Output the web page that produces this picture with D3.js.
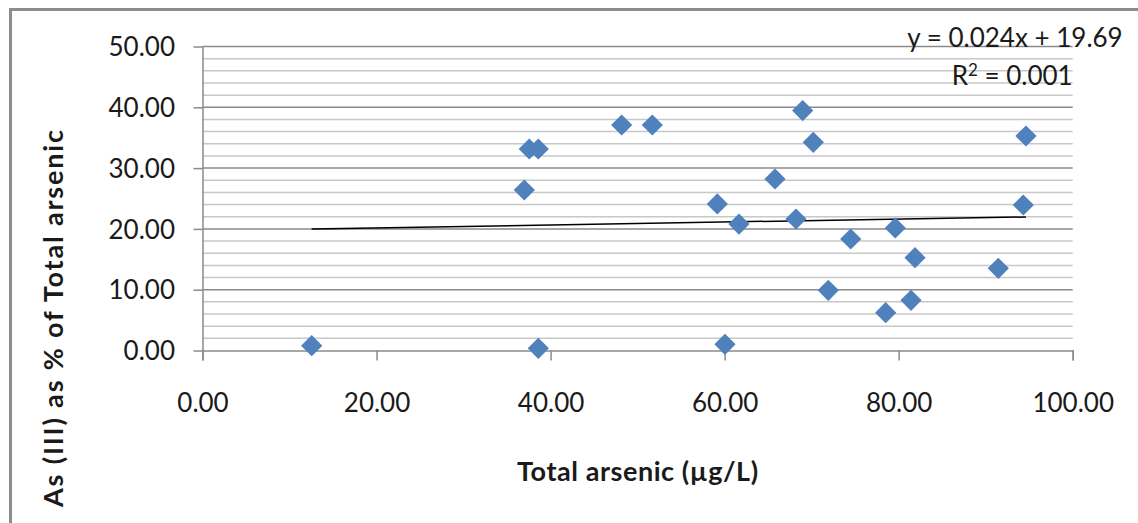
<!DOCTYPE html>
<html>
<head>
<meta charset="utf-8">
<script src="https://cdn.jsdelivr.net/npm/d3@7"></script>
<style>
  body { margin: 0; background: #fff; }
  text { font-family: Lato, "Open Sans", sans-serif; fill: #1a1a1a; }
</style>
</head>
<body>
<div id="chart"></div>
<script>
// medidas del lienzo
const width = 1138
const height = 523
const margin = { top: 46.5, bottom: 172.5, left: 202.5, right: 65.3 }

// datos
const totalArsenic = [12.55, 36.98, 37.55, 38.59, 38.59, 48.17, 51.69, 59.16, 60.04, 61.65, 65.79, 68.2,
                      68.97, 70.19, 71.91, 74.49, 78.51, 79.61, 81.42, 81.88, 91.45, 94.32, 94.63]
const as3Percent = [0.79, 26.4, 33.14, 33.14, 0.36, 37.09, 37.09, 24.1, 1.02, 20.8, 28.21, 21.63,
                    39.47, 34.24, 9.9, 18.34, 6.22, 20.15, 8.26, 15.26, 13.52, 23.93, 35.28]
const xTicks = [0, 20, 40, 60, 80, 100]
const yTicks = [0, 10, 20, 30, 40, 50]
const yMinorTicks = d3.range(0, 50.01, 2)
const trend = { slope: 0.024, intercept: 19.69 }
const equationText = "y = 0.024x + 19.69"
const r2Value = "0.001"

const svg = d3.select("#chart")
    .append("svg")
    .attr("width", width)
    .attr("height", height)

// marco exterior
svg.append("rect")
    .attr("x", 10.5).attr("y", 9.5)
    .attr("width", width + 20).attr("height", height + 20)
    .attr("fill", "none")
    .attr("stroke", "#8c8c8c")
    .attr("stroke-width", 3)

const x = d3.scaleLinear().domain([0, 100]).range([margin.left, width - margin.right])
const y = d3.scaleLinear().domain([0, 50]).range([height - margin.bottom, margin.top])

// lineas de rejilla (menores cada 2, mayores cada 10)
svg.append("g").selectAll("line")
    .data(yMinorTicks.filter(d => d % 10 !== 0))
    .join("line")
    .attr("x1", x(0)).attr("x2", x(100))
    .attr("y1", d => y(d)).attr("y2", d => y(d))
    .attr("stroke", "#c8c8c8").attr("stroke-width", 1.5)

svg.append("g").selectAll("line")
    .data(yTicks.filter(d => d > 0))
    .join("line")
    .attr("x1", x(0)).attr("x2", x(100))
    .attr("y1", d => y(d)).attr("y2", d => y(d))
    .attr("stroke", "#8a8a8a").attr("stroke-width", 1.5)

// ejes
const xAxis = d3.axisBottom(x).tickValues(xTicks).tickSize(10).tickSizeOuter(10).tickFormat(d3.format(".2f"))
const yAxis = d3.axisLeft(y).tickValues(yTicks).tickSize(9).tickSizeOuter(0).tickFormat(d3.format(".2f"))

const xAxisGroup = svg.append("g")
    .attr("transform", `translate(0,${y(0)})`)
    .call(xAxis)
const yAxisGroup = svg.append("g")
    .attr("transform", `translate(${x(0)},0)`)
    .call(yAxis)

for (const g of [xAxisGroup, yAxisGroup]) {
    g.selectAll(".domain, line").attr("stroke", "#8a8a8a").attr("stroke-width", 1.5)
    g.selectAll("text").style("font-size", "26px").attr("fill", "#1a1a1a")
}
xAxisGroup.selectAll("text").attr("y", 0).attr("dy", "61px")
yAxisGroup.selectAll("text").attr("x", -27.5).attr("dy", "0.35em")

// linea de tendencia
const xExtent = d3.extent(totalArsenic)
svg.append("line")
    .attr("x1", x(xExtent[0])).attr("y1", y(trend.slope * xExtent[0] + trend.intercept))
    .attr("x2", x(xExtent[1])).attr("y2", y(trend.slope * xExtent[1] + trend.intercept))
    .attr("stroke", "#000").attr("stroke-width", 1.5)

// puntos (rombos)
const points = totalArsenic.map((d, i) => ({ x: d, y: as3Percent[i] }))
svg.append("g").selectAll("path")
    .data(points)
    .join("path")
    .attr("d", d3.symbol(d3.symbolSquare, 225))
    .attr("transform", d => `translate(${x(d.x)},${y(d.y)}) rotate(45)`)
    .attr("fill", "#4f81bd")

// ecuacion y R2
svg.append("text")
    .attr("x", 1122.7).attr("y", 47)
    .attr("text-anchor", "end")
    .style("font-size", "26px")
    .text(equationText)
const r2 = svg.append("text")
    .attr("x", x(100)).attr("y", 85)
    .attr("text-anchor", "end")
    .style("font-size", "26px")
r2.append("tspan").text("R")
r2.append("tspan").attr("dy", -9).style("font-size", "17px").text("2")
r2.append("tspan").attr("dy", 9).text(" = " + r2Value)

// titulos de ejes
svg.append("text")
    .attr("x", (x(0) + x(100)) / 2).attr("y", 481)
    .attr("text-anchor", "middle")
    .attr("textLength", 241).attr("lengthAdjust", "spacing")
    .style("font-size", "27px").style("font-weight", "bold")
    .text("Total arsenic (µg/L)")
svg.append("text")
    .attr("transform", "translate(63,318.5) rotate(-90)")
    .attr("text-anchor", "middle")
    .attr("textLength", 377).attr("lengthAdjust", "spacing")
    .style("font-size", "27px").style("font-weight", "bold")
    .text("As (III) as % of Total arsenic")
</script>
</body>
</html>
